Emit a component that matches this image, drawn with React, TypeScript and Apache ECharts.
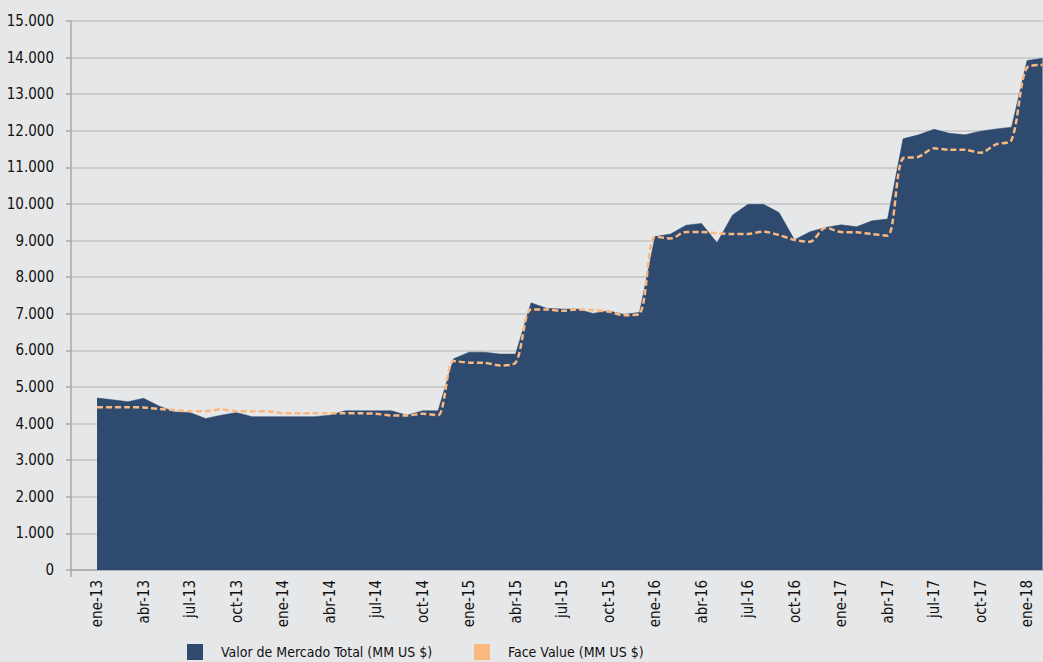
import React, { useEffect, useRef } from "react";
import * as echarts from "echarts";

const monthNames = ["ene", "feb", "mar", "abr", "may", "jun", "jul", "ago", "sep", "oct", "nov", "dic"];
const yearNames = ["13", "14", "15", "16", "17", "18"];
const categories: string[] = [];
for (const y of yearNames) for (const m of monthNames) categories.push(`${m}-${y}`);
categories.length = 62; // ene-13 .. feb-18

const valorMercado = [
  4700, 4650, 4600, 4690, 4480, 4320, 4300, 4140, 4230, 4300, 4190, 4190,
  4190, 4190, 4190, 4230, 4350, 4350, 4350, 4350, 4230, 4350, 4350, 5770,
  5950, 5950, 5900, 5900, 7300, 7150, 7130, 7130, 7010, 7080, 6980, 7040,
  9110, 9180, 9420, 9470, 8940, 9700, 9990, 9990, 9770, 9020, 9240, 9360,
  9430, 9380, 9540, 9590, 11780, 11890, 12040, 11930, 11890, 11990, 12050, 12100,
  13920, 13980,
];

const faceValue = [
  4450, 4450, 4450, 4440, 4400, 4370, 4340, 4340, 4390, 4340, 4340, 4340,
  4280, 4280, 4280, 4280, 4280, 4280, 4270, 4220, 4220, 4270, 4230, 5710,
  5665, 5660, 5590, 5665, 7120, 7120, 7080, 7120, 7100, 7060, 6960, 7000,
  9110, 9060, 9235, 9235, 9200, 9180, 9180, 9245, 9150, 9020, 8970, 9350,
  9235, 9225, 9180, 9135, 11250, 11290, 11520, 11480, 11480, 11400, 11630, 11750,
  13730, 13800,
];

const xLabelIndices = [0, 3, 6, 9, 12, 15, 18, 21, 24, 27, 30, 33, 36, 39, 42, 45, 48, 51, 54, 57, 60];

const seriesNames = ["Valor de Mercado Total (MM US $)", "Face Value (MM US $)"];

const FONT = "'Liberation Sans Narrow', 'DejaVu Sans Condensed', 'Roboto', sans-serif";
const BG = "#e6e7e9";
const NAVY = "#2e4a6f";
const ORANGE = "#fbb880";
const AXIS = "#a9a9a9";
const GRID = "#c4c4c4";
const TEXT = "#111111";

const X_MIN = -1.68;
const X_MAX = 61.03;

export default function App() {
  const ref = useRef<HTMLDivElement>(null);
  useEffect(() => {
    document.body.style.margin = "0";
    document.body.style.background = BG;
    if (!ref.current) return;
    const chart = echarts.init(ref.current, null, { renderer: "svg" });
    const legendCommon = {
      top: 639,
      padding: 5,
      itemWidth: 16,
      itemHeight: 16,
      icon: "rect",
      textStyle: { fontFamily: FONT, fontSize: 14, color: TEXT, padding: [0, 0, 0, 13] },
    };
    chart.setOption({
      animation: false,
      backgroundColor: BG,
      textStyle: { fontFamily: FONT },
      grid: { left: 71, right: 0, top: 21, bottom: 92, containLabel: false, outerBoundsMode: "none" },
      legend: [
        { ...legendCommon, left: 182, data: [seriesNames[0]] },
        { ...legendCommon, left: 469, data: [seriesNames[1]] },
      ],
      xAxis: {
        type: "value",
        min: X_MIN,
        max: X_MAX,
        axisLine: { show: true, onZero: false, lineStyle: { color: AXIS, width: 1.5 } },
        axisTick: { show: true, length: 7, customValues: [X_MIN], lineStyle: { color: AXIS, width: 1.5 } },
        splitLine: { show: false },
        axisLabel: {
          customValues: xLabelIndices,
          rotate: 90,
          margin: 10,
          fontFamily: FONT,
          fontSize: 15,
          color: TEXT,
          formatter: (v: number) => categories[Math.round(v)] ?? "",
        },
      },
      yAxis: {
        type: "value",
        min: 0,
        max: 15000,
        interval: 1000,
        axisLine: { show: true, onZero: false, lineStyle: { color: AXIS, width: 1.5 } },
        axisTick: { show: true, length: 5, lineStyle: { color: AXIS, width: 1.5 } },
        splitLine: { show: true, lineStyle: { color: GRID, width: 1.5 } },
        axisLabel: {
          margin: 17,
          fontFamily: FONT,
          fontSize: 15,
          color: TEXT,
          formatter: (v: number) => (v === 0 ? "0" : `${v / 1000}.000`),
        },
      },
      series: [
        {
          name: seriesNames[0],
          type: "line",
          data: valorMercado.map((v, i) => [i, v]),
          symbol: "none",
          itemStyle: { color: NAVY },
          lineStyle: { color: NAVY, width: 0.5 },
          areaStyle: { color: NAVY, opacity: 1 },
          z: 2,
        },
        {
          name: seriesNames[1],
          type: "line",
          data: faceValue.map((v, i) => [i, v]),
          symbol: "none",
          smooth: 0.3,
          itemStyle: { color: ORANGE },
          lineStyle: { color: ORANGE, width: 2.5, type: [6, 3] },
          z: 3,
        },
      ],
    });
    return () => chart.dispose();
  }, []);
  return <div ref={ref} style={{ width: 1043, height: 662, background: BG }} />;
}
